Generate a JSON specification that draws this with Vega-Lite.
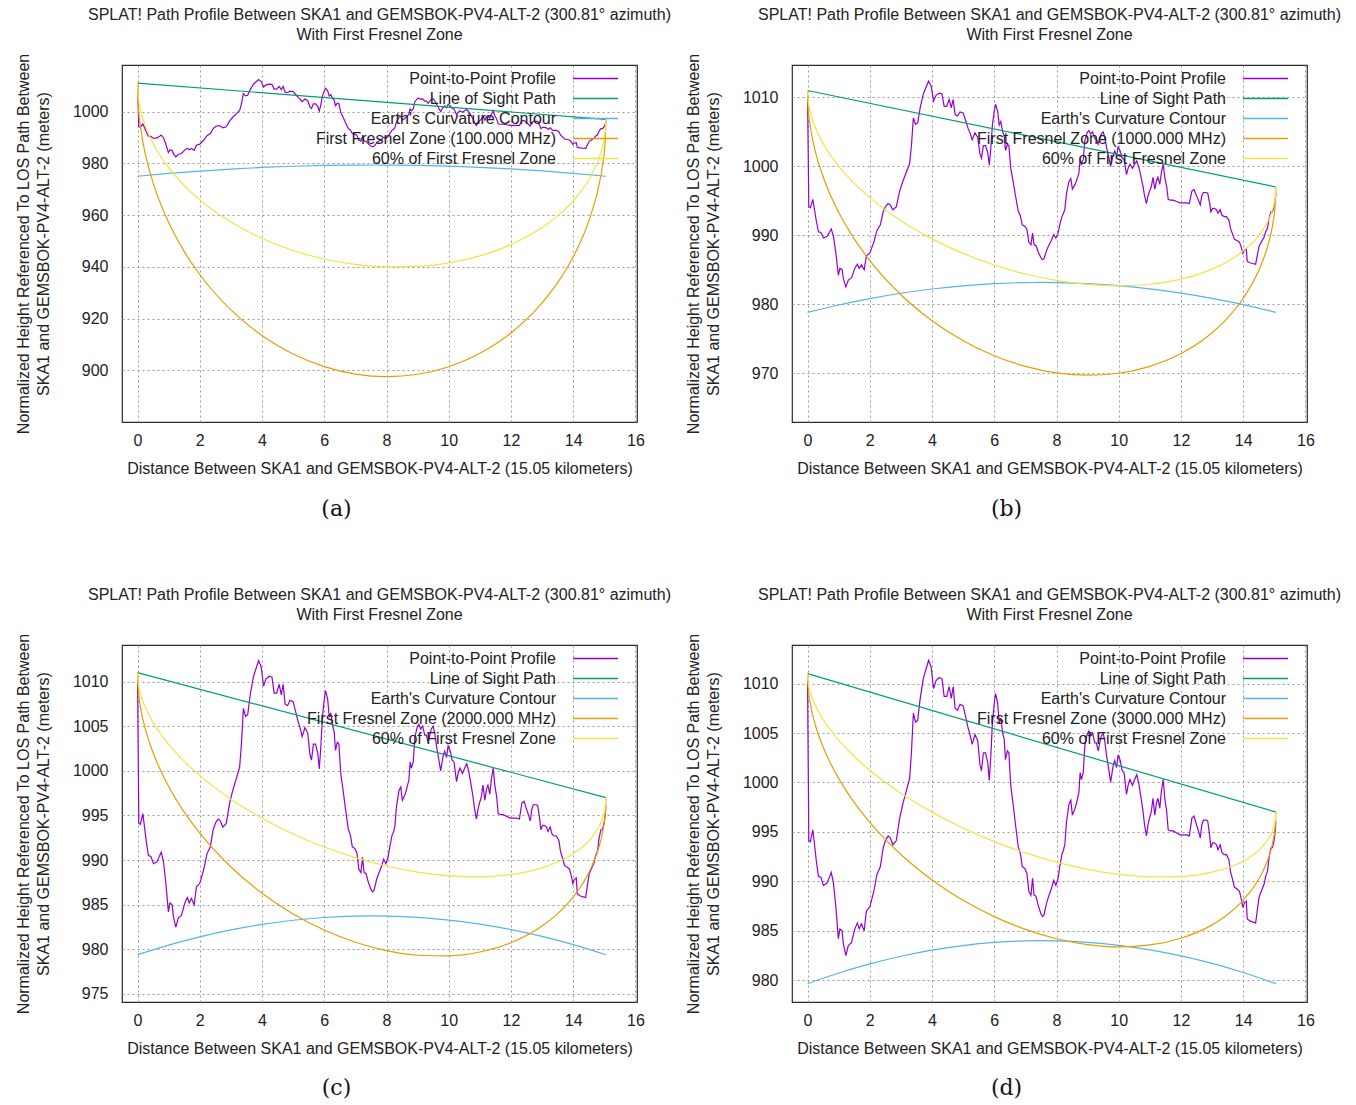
{
"$schema":"https://vega.github.io/schema/vega-lite/v6.json",
"background":"white",
"padding":{"left":14,"top":6,"right":0,"bottom":0},
"datasets":{
"prof":[
{"s":"P","x":0,"h":1010.3},{"s":"P","x":0.04,"h":994.1},{"s":"P","x":0.09,"h":994.0},{"s":"P","x":0.17,"h":995.2},{"s":"P","x":0.21,"h":994.1},{"s":"P","x":0.28,"h":992.1},{"s":"P","x":0.35,"h":990.5},{"s":"P","x":0.43,"h":990.4},{"s":"P","x":0.51,"h":989.6},{"s":"P","x":0.62,"h":989.8},{"s":"P","x":0.70,"h":990.4},{"s":"P","x":0.76,"h":990.9},{"s":"P","x":0.83,"h":989.9},{"s":"P","x":0.91,"h":987.4},{"s":"P","x":0.99,"h":984.2},{"s":"P","x":1.04,"h":985.2},{"s":"P","x":1.11,"h":985.0},{"s":"P","x":1.15,"h":983.7},{"s":"P","x":1.23,"h":982.5},{"s":"P","x":1.31,"h":983.5},{"s":"P","x":1.41,"h":983.8},{"s":"P","x":1.52,"h":985.2},{"s":"P","x":1.60,"h":985.8},{"s":"P","x":1.66,"h":985.2},{"s":"P","x":1.73,"h":985.7},{"s":"P","x":1.82,"h":985.0},{"s":"P","x":1.89,"h":987.0},{"s":"P","x":2.00,"h":987.4},{"s":"P","x":2.13,"h":989.0},{"s":"P","x":2.23,"h":990.7},{"s":"P","x":2.34,"h":991.5},{"s":"P","x":2.43,"h":993.4},{"s":"P","x":2.51,"h":994.2},{"s":"P","x":2.59,"h":994.6},{"s":"P","x":2.66,"h":994.4},{"s":"P","x":2.74,"h":993.7},{"s":"P","x":2.85,"h":994.1},{"s":"P","x":2.96,"h":996.4},{"s":"P","x":3.06,"h":997.8},{"s":"P","x":3.17,"h":999.1},{"s":"P","x":3.28,"h":1000.4},{"s":"P","x":3.34,"h":1003.1},{"s":"P","x":3.40,"h":1007.0},{"s":"P","x":3.47,"h":1006.1},{"s":"P","x":3.54,"h":1006.3},{"s":"P","x":3.62,"h":1008.5},{"s":"P","x":3.72,"h":1010.5},{"s":"P","x":3.81,"h":1011.5},{"s":"P","x":3.89,"h":1012.35},{"s":"P","x":3.97,"h":1011.7},{"s":"P","x":4.05,"h":1009.5},{"s":"P","x":4.13,"h":1010.3},{"s":"P","x":4.23,"h":1010.6},{"s":"P","x":4.32,"h":1010.5},{"s":"P","x":4.39,"h":1008.7},{"s":"P","x":4.47,"h":1008.7},{"s":"P","x":4.55,"h":1009.7},{"s":"P","x":4.62,"h":1008.5},{"s":"P","x":4.68,"h":1009.7},{"s":"P","x":4.74,"h":1007.5},{"s":"P","x":4.82,"h":1007.3},{"s":"P","x":4.90,"h":1007.9},{"s":"P","x":5.00,"h":1007.75},{"s":"P","x":5.09,"h":1006.5},{"s":"P","x":5.16,"h":1005.5},{"s":"P","x":5.22,"h":1004.85},{"s":"P","x":5.29,"h":1003.85},{"s":"P","x":5.38,"h":1004.85},{"s":"P","x":5.47,"h":1004.2},{"s":"P","x":5.54,"h":1001.8},{"s":"P","x":5.59,"h":1001.2},{"s":"P","x":5.65,"h":1003.0},{"s":"P","x":5.72,"h":1003.0},{"s":"P","x":5.79,"h":1002.0},{"s":"P","x":5.84,"h":1000.2},{"s":"P","x":5.89,"h":1002.7},{"s":"P","x":5.94,"h":1006.0},{"s":"P","x":6.00,"h":1008.0},{"s":"P","x":6.04,"h":1009.0},{"s":"P","x":6.11,"h":1008.0},{"s":"P","x":6.16,"h":1006.0},{"s":"P","x":6.21,"h":1006.5},{"s":"P","x":6.27,"h":1005.0},{"s":"P","x":6.32,"h":1004.35},{"s":"P","x":6.36,"h":1002.3},{"s":"P","x":6.42,"h":1003.2},{"s":"P","x":6.47,"h":1003.0},{"s":"P","x":6.53,"h":999.7},{"s":"P","x":6.61,"h":997.7},{"s":"P","x":6.68,"h":995.8},{"s":"P","x":6.77,"h":993.5},{"s":"P","x":6.84,"h":992.8},{"s":"P","x":6.90,"h":991.5},{"s":"P","x":6.98,"h":991.3},{"s":"P","x":7.05,"h":990.8},{"s":"P","x":7.11,"h":989.0},{"s":"P","x":7.18,"h":988.6},{"s":"P","x":7.23,"h":990.3},{"s":"P","x":7.28,"h":988.6},{"s":"P","x":7.34,"h":988.5},{"s":"P","x":7.41,"h":987.6},{"s":"P","x":7.49,"h":986.8},{"s":"P","x":7.55,"h":986.45},{"s":"P","x":7.60,"h":986.6},{"s":"P","x":7.68,"h":987.8},{"s":"P","x":7.75,"h":988.5},{"s":"P","x":7.84,"h":989.3},{"s":"P","x":7.91,"h":990.1},{"s":"P","x":7.98,"h":989.6},{"s":"P","x":8.05,"h":990.3},{"s":"P","x":8.11,"h":991.6},{"s":"P","x":8.18,"h":992.8},{"s":"P","x":8.22,"h":993.1},{"s":"P","x":8.27,"h":993.8},{"s":"P","x":8.32,"h":996.0},{"s":"P","x":8.40,"h":997.8},{"s":"P","x":8.46,"h":998.2},{"s":"P","x":8.51,"h":996.7},{"s":"P","x":8.59,"h":997.3},{"s":"P","x":8.65,"h":998.0},{"s":"P","x":8.72,"h":999.0},{"s":"P","x":8.76,"h":1001.0},{"s":"P","x":8.80,"h":1000.3},{"s":"P","x":8.86,"h":1001.0},{"s":"P","x":8.91,"h":1003.7},{"s":"P","x":8.98,"h":1004.85},{"s":"P","x":9.04,"h":1005.2},{"s":"P","x":9.10,"h":1004.7},{"s":"P","x":9.16,"h":1005.0},{"s":"P","x":9.23,"h":1004.0},{"s":"P","x":9.28,"h":1004.0},{"s":"P","x":9.34,"h":1003.2},{"s":"P","x":9.39,"h":1004.0},{"s":"P","x":9.44,"h":1004.7},{"s":"P","x":9.50,"h":1005.0},{"s":"P","x":9.55,"h":1004.2},{"s":"P","x":9.61,"h":1002.7},{"s":"P","x":9.68,"h":1001.3},{"s":"P","x":9.74,"h":1000.0},{"s":"P","x":9.82,"h":1001.7},{"s":"P","x":9.87,"h":1002.2},{"s":"P","x":9.93,"h":1001.5},{"s":"P","x":9.98,"h":1002.8},{"s":"P","x":10.05,"h":1002.2},{"s":"P","x":10.11,"h":1001.2},{"s":"P","x":10.17,"h":1001.0},{"s":"P","x":10.25,"h":998.8},{"s":"P","x":10.30,"h":999.7},{"s":"P","x":10.36,"h":1000.3},{"s":"P","x":10.44,"h":999.7},{"s":"P","x":10.51,"h":1000.3},{"s":"P","x":10.58,"h":1000.8},{"s":"P","x":10.65,"h":999.8},{"s":"P","x":10.72,"h":998.4},{"s":"P","x":10.78,"h":997.1},{"s":"P","x":10.83,"h":995.7},{"s":"P","x":10.89,"h":994.6},{"s":"P","x":10.94,"h":995.7},{"s":"P","x":10.99,"h":996.4},{"s":"P","x":11.05,"h":997.1},{"s":"P","x":11.10,"h":998.4},{"s":"P","x":11.16,"h":996.7},{"s":"P","x":11.21,"h":997.9},{"s":"P","x":11.26,"h":998.4},{"s":"P","x":11.32,"h":997.4},{"s":"P","x":11.37,"h":999.1},{"s":"P","x":11.43,"h":1000.3},{"s":"P","x":11.48,"h":998.4},{"s":"P","x":11.54,"h":997.1},{"s":"P","x":11.59,"h":995.2},{"s":"P","x":11.66,"h":995.1},{"s":"P","x":11.75,"h":995.1},{"s":"P","x":11.86,"h":994.9},{"s":"P","x":11.97,"h":994.7},{"s":"P","x":12.08,"h":994.7},{"s":"P","x":12.18,"h":994.7},{"s":"P","x":12.27,"h":994.6},{"s":"P","x":12.35,"h":996.4},{"s":"P","x":12.42,"h":996.6},{"s":"P","x":12.51,"h":995.6},{"s":"P","x":12.56,"h":995.1},{"s":"P","x":12.62,"h":994.4},{"s":"P","x":12.67,"h":995.7},{"s":"P","x":12.72,"h":996.2},{"s":"P","x":12.81,"h":996.2},{"s":"P","x":12.86,"h":996.1},{"s":"P","x":12.92,"h":994.7},{"s":"P","x":12.96,"h":993.4},{"s":"P","x":13.02,"h":993.9},{"s":"P","x":13.07,"h":993.9},{"s":"P","x":13.14,"h":993.7},{"s":"P","x":13.19,"h":993.2},{"s":"P","x":13.26,"h":993.7},{"s":"P","x":13.32,"h":992.9},{"s":"P","x":13.39,"h":992.7},{"s":"P","x":13.46,"h":992.7},{"s":"P","x":13.54,"h":992.2},{"s":"P","x":13.59,"h":991.0},{"s":"P","x":13.64,"h":990.4},{"s":"P","x":13.72,"h":989.4},{"s":"P","x":13.81,"h":989.2},{"s":"P","x":13.88,"h":989.0},{"s":"P","x":13.94,"h":988.2},{"s":"P","x":13.99,"h":987.35},{"s":"P","x":14.04,"h":987.85},{"s":"P","x":14.10,"h":988.0},{"s":"P","x":14.13,"h":986.2},{"s":"P","x":14.22,"h":986.0},{"s":"P","x":14.29,"h":985.9},{"s":"P","x":14.40,"h":985.8},{"s":"P","x":14.45,"h":987.0},{"s":"P","x":14.51,"h":988.4},{"s":"P","x":14.58,"h":989.0},{"s":"P","x":14.67,"h":989.7},{"s":"P","x":14.72,"h":990.5},{"s":"P","x":14.78,"h":991.0},{"s":"P","x":14.83,"h":992.4},{"s":"P","x":14.89,"h":993.4},{"s":"P","x":14.94,"h":993.4},{"s":"P","x":14.99,"h":994.1},{"s":"P","x":15.03,"h":995.1},{"s":"P","x":15.05,"h":996.1}
],
"pa":[
{"s":"L","x":0,"h":1011},{"s":"L","x":15.05,"h":997},
{"s":"E","x":0,"h":975.0},{"s":"E","x":1,"h":976.08},{"s":"E","x":2,"h":977.0},{"s":"E","x":3,"h":977.78},{"s":"E","x":4,"h":978.4},{"s":"E","x":5,"h":978.86},{"s":"E","x":6,"h":979.17},{"s":"E","x":7,"h":979.33},{"s":"E","x":7.5,"h":979.35},{"s":"E","x":8,"h":979.33},{"s":"E","x":9,"h":979.18},{"s":"E","x":10,"h":978.88},{"s":"E","x":11,"h":978.42},{"s":"E","x":12,"h":977.81},{"s":"E","x":13,"h":977.05},{"s":"E","x":14,"h":976.13},{"s":"E","x":15.05,"h":975.0},
{"s":"F","x":0,"h":1011.0},{"s":"F","x":0.02,"h":1003.24},{"s":"F","x":0.1,"h":993.65},{"s":"F","x":0.25,"h":983.61},{"s":"F","x":0.5,"h":972.45},{"s":"F","x":1,"h":957.15},{"s":"F","x":1.5,"h":945.95},{"s":"F","x":2,"h":937.01},{"s":"F","x":3,"h":923.33},{"s":"F","x":4,"h":913.42},{"s":"F","x":5,"h":906.27},{"s":"F","x":6,"h":901.38},{"s":"F","x":7,"h":898.51},{"s":"F","x":8,"h":897.53},{"s":"F","x":9,"h":898.45},{"s":"F","x":10,"h":901.37},{"s":"F","x":11,"h":906.54},{"s":"F","x":12,"h":914.43},{"s":"F","x":13,"h":926.03},{"s":"F","x":13.5,"h":933.86},{"s":"F","x":14,"h":943.85},{"s":"F","x":14.55,"h":959.38},{"s":"F","x":14.8,"h":970.07},{"s":"F","x":14.95,"h":979.83},{"s":"F","x":15.03,"h":989.28},{"s":"F","x":15.05,"h":997.0},
{"s":"S","x":0,"h":1011.0},{"s":"S","x":0.02,"h":1006.34},{"s":"S","x":0.1,"h":1000.55},{"s":"S","x":0.25,"h":994.47},{"s":"S","x":0.5,"h":987.68},{"s":"S","x":1,"h":978.32},{"s":"S","x":1.5,"h":971.41},{"s":"S","x":2,"h":965.86},{"s":"S","x":3,"h":957.28},{"s":"S","x":4,"h":950.96},{"s":"S","x":5,"h":946.3},{"s":"S","x":6,"h":943.0},{"s":"S","x":7,"h":940.9},{"s":"S","x":8,"h":939.94},{"s":"S","x":9,"h":940.12},{"s":"S","x":10,"h":941.5},{"s":"S","x":11,"h":944.23},{"s":"S","x":12,"h":948.59},{"s":"S","x":13,"h":955.18},{"s":"S","x":13.5,"h":959.69},{"s":"S","x":14,"h":965.5},{"s":"S","x":14.55,"h":974.61},{"s":"S","x":14.8,"h":980.93},{"s":"S","x":14.95,"h":986.73},{"s":"S","x":15.03,"h":992.38},{"s":"S","x":15.05,"h":997.0}
],
"pb":[
{"s":"L","x":0,"h":1011},{"s":"L","x":15.05,"h":997},
{"s":"E","x":0,"h":978.8},{"s":"E","x":1,"h":979.88},{"s":"E","x":2,"h":980.8},{"s":"E","x":3,"h":981.58},{"s":"E","x":4,"h":982.2},{"s":"E","x":5,"h":982.66},{"s":"E","x":6,"h":982.97},{"s":"E","x":7,"h":983.13},{"s":"E","x":7.5,"h":983.15},{"s":"E","x":8,"h":983.13},{"s":"E","x":9,"h":982.98},{"s":"E","x":10,"h":982.68},{"s":"E","x":11,"h":982.22},{"s":"E","x":12,"h":981.61},{"s":"E","x":13,"h":980.85},{"s":"E","x":14,"h":979.93},{"s":"E","x":15.05,"h":978.8},
{"s":"F","x":0,"h":1011.0},{"s":"F","x":0.02,"h":1008.53},{"s":"F","x":0.1,"h":1005.45},{"s":"F","x":0.25,"h":1002.18},{"s":"F","x":0.5,"h":998.49},{"s":"F","x":1,"h":993.34},{"s":"F","x":1.5,"h":989.47},{"s":"F","x":2,"h":986.33},{"s":"F","x":3,"h":981.37},{"s":"F","x":4,"h":977.6},{"s":"F","x":5,"h":974.7},{"s":"F","x":6,"h":972.52},{"s":"F","x":7,"h":970.98},{"s":"F","x":8,"h":970.03},{"s":"F","x":9,"h":969.69},{"s":"F","x":10,"h":969.97},{"s":"F","x":11,"h":970.97},{"s":"F","x":12,"h":972.83},{"s":"F","x":13,"h":975.86},{"s":"F","x":13.5,"h":978.02},{"s":"F","x":14,"h":980.86},{"s":"F","x":14.55,"h":985.42},{"s":"F","x":14.8,"h":988.64},{"s":"F","x":14.95,"h":991.63},{"s":"F","x":15.03,"h":994.57},{"s":"F","x":15.05,"h":997.0},
{"s":"S","x":0,"h":1011.0},{"s":"S","x":0.02,"h":1009.51},{"s":"S","x":0.1,"h":1007.64},{"s":"S","x":0.25,"h":1005.62},{"s":"S","x":0.5,"h":1003.3},{"s":"S","x":1,"h":1000.03},{"s":"S","x":1.5,"h":997.52},{"s":"S","x":2,"h":995.46},{"s":"S","x":3,"h":992.1},{"s":"S","x":4,"h":989.47},{"s":"S","x":5,"h":987.36},{"s":"S","x":6,"h":985.68},{"s":"S","x":7,"h":984.38},{"s":"S","x":8,"h":983.44},{"s":"S","x":9,"h":982.86},{"s":"S","x":10,"h":982.66},{"s":"S","x":11,"h":982.89},{"s":"S","x":12,"h":983.63},{"s":"S","x":13,"h":985.08},{"s":"S","x":13.5,"h":986.19},{"s":"S","x":14,"h":987.71},{"s":"S","x":14.55,"h":990.23},{"s":"S","x":14.8,"h":992.08},{"s":"S","x":14.95,"h":993.82},{"s":"S","x":15.03,"h":995.55},{"s":"S","x":15.05,"h":997.0}
],
"pc":[
{"s":"L","x":0,"h":1011},{"s":"L","x":15.05,"h":997},
{"s":"E","x":0,"h":979.4},{"s":"E","x":1,"h":980.48},{"s":"E","x":2,"h":981.4},{"s":"E","x":3,"h":982.18},{"s":"E","x":4,"h":982.8},{"s":"E","x":5,"h":983.26},{"s":"E","x":6,"h":983.57},{"s":"E","x":7,"h":983.73},{"s":"E","x":7.5,"h":983.75},{"s":"E","x":8,"h":983.73},{"s":"E","x":9,"h":983.58},{"s":"E","x":10,"h":983.28},{"s":"E","x":11,"h":982.82},{"s":"E","x":12,"h":982.21},{"s":"E","x":13,"h":981.45},{"s":"E","x":14,"h":980.53},{"s":"E","x":15.05,"h":979.4},
{"s":"F","x":0,"h":1011.0},{"s":"F","x":0.02,"h":1009.25},{"s":"F","x":0.1,"h":1007.05},{"s":"F","x":0.25,"h":1004.7},{"s":"F","x":0.5,"h":1002.02},{"s":"F","x":1,"h":998.24},{"s":"F","x":1.5,"h":995.37},{"s":"F","x":2,"h":993.01},{"s":"F","x":3,"h":989.23},{"s":"F","x":4,"h":986.29},{"s":"F","x":5,"h":983.97},{"s":"F","x":6,"h":982.16},{"s":"F","x":7,"h":980.79},{"s":"F","x":8,"h":979.85},{"s":"F","x":9,"h":979.34},{"s":"F","x":10,"h":979.27},{"s":"F","x":11,"h":979.7},{"s":"F","x":12,"h":980.74},{"s":"F","x":13,"h":982.61},{"s":"F","x":13.5,"h":984.0},{"s":"F","x":14,"h":985.88},{"s":"F","x":14.55,"h":988.95},{"s":"F","x":14.8,"h":991.16},{"s":"F","x":14.95,"h":993.23},{"s":"F","x":15.03,"h":995.29},{"s":"F","x":15.05,"h":997.0},
{"s":"S","x":0,"h":1011.0},{"s":"S","x":0.02,"h":1009.94},{"s":"S","x":0.1,"h":1008.59},{"s":"S","x":0.25,"h":1007.13},{"s":"S","x":0.5,"h":1005.42},{"s":"S","x":1,"h":1002.97},{"s":"S","x":1.5,"h":1001.06},{"s":"S","x":2,"h":999.46},{"s":"S","x":3,"h":996.82},{"s":"S","x":4,"h":994.69},{"s":"S","x":5,"h":992.92},{"s":"S","x":6,"h":991.46},{"s":"S","x":7,"h":990.27},{"s":"S","x":8,"h":989.34},{"s":"S","x":9,"h":988.65},{"s":"S","x":10,"h":988.24},{"s":"S","x":11,"h":988.13},{"s":"S","x":12,"h":988.38},{"s":"S","x":13,"h":989.13},{"s":"S","x":13.5,"h":989.78},{"s":"S","x":14,"h":990.72},{"s":"S","x":14.55,"h":992.35},{"s":"S","x":14.8,"h":993.59},{"s":"S","x":14.95,"h":994.77},{"s":"S","x":15.03,"h":995.98},{"s":"S","x":15.05,"h":997.0}
],
"pd":[
{"s":"L","x":0,"h":1011},{"s":"L","x":15.05,"h":997},
{"s":"E","x":0,"h":979.65},{"s":"E","x":1,"h":980.73},{"s":"E","x":2,"h":981.65},{"s":"E","x":3,"h":982.43},{"s":"E","x":4,"h":983.05},{"s":"E","x":5,"h":983.51},{"s":"E","x":6,"h":983.82},{"s":"E","x":7,"h":983.98},{"s":"E","x":7.5,"h":984.0},{"s":"E","x":8,"h":983.98},{"s":"E","x":9,"h":983.83},{"s":"E","x":10,"h":983.53},{"s":"E","x":11,"h":983.07},{"s":"E","x":12,"h":982.46},{"s":"E","x":13,"h":981.7},{"s":"E","x":14,"h":980.78},{"s":"E","x":15.05,"h":979.65},
{"s":"F","x":0,"h":1011.0},{"s":"F","x":0.02,"h":1009.57},{"s":"F","x":0.1,"h":1007.76},{"s":"F","x":0.25,"h":1005.81},{"s":"F","x":0.5,"h":1003.58},{"s":"F","x":1,"h":1000.41},{"s":"F","x":1.5,"h":997.98},{"s":"F","x":2,"h":995.97},{"s":"F","x":3,"h":992.71},{"s":"F","x":4,"h":990.14},{"s":"F","x":5,"h":988.08},{"s":"F","x":6,"h":986.43},{"s":"F","x":7,"h":985.14},{"s":"F","x":8,"h":984.2},{"s":"F","x":9,"h":983.61},{"s":"F","x":10,"h":983.38},{"s":"F","x":11,"h":983.57},{"s":"F","x":12,"h":984.25},{"s":"F","x":13,"h":985.6},{"s":"F","x":13.5,"h":986.65},{"s":"F","x":14,"h":988.1},{"s":"F","x":14.55,"h":990.51},{"s":"F","x":14.8,"h":992.27},{"s":"F","x":14.95,"h":993.94},{"s":"F","x":15.03,"h":995.61},{"s":"F","x":15.05,"h":997.0},
{"s":"S","x":0,"h":1011.0},{"s":"S","x":0.02,"h":1010.13},{"s":"S","x":0.1,"h":1009.02},{"s":"S","x":0.25,"h":1007.8},{"s":"S","x":0.5,"h":1006.36},{"s":"S","x":1,"h":1004.27},{"s":"S","x":1.5,"h":1002.63},{"s":"S","x":2,"h":1001.24},{"s":"S","x":3,"h":998.91},{"s":"S","x":4,"h":997.0},{"s":"S","x":5,"h":995.39},{"s":"S","x":6,"h":994.02},{"s":"S","x":7,"h":992.88},{"s":"S","x":8,"h":991.95},{"s":"S","x":9,"h":991.22},{"s":"S","x":10,"h":990.71},{"s":"S","x":11,"h":990.45},{"s":"S","x":12,"h":990.48},{"s":"S","x":13,"h":990.93},{"s":"S","x":13.5,"h":991.37},{"s":"S","x":14,"h":992.05},{"s":"S","x":14.55,"h":993.29},{"s":"S","x":14.8,"h":994.26},{"s":"S","x":14.95,"h":995.2},{"s":"S","x":15.03,"h":996.17},{"s":"S","x":15.05,"h":997.0}
]
},
"config":{
"font":"Liberation Sans",
"view":{"stroke":"#2b2b2b","strokeWidth":1.2},
"axis":{"grid":true,"gridColor":"#9a9a9a","gridDash":[2,3],"gridWidth":1,"domain":false,"ticks":false,"format":"d","labelFontSize":16,"labelFont":"Liberation Sans","labelColor":"#222222","titleFontSize":16,"titleFont":"Liberation Sans","titleFontWeight":"normal","titleColor":"#222222","titleLineHeight":20},
"axisX":{"labelPadding":10,"titlePadding":12},
"axisY":{"labelPadding":14,"titlePadding":21},
"title":{"font":"Liberation Sans","fontSize":16,"fontWeight":"normal","color":"#222222","lineHeight":20,"offset":10},
"legend":{"symbolType":"M-3,0H3","symbolSize":225,"symbolStrokeWidth":1.5,"labelAlign":"right","labelOffset":-48,"symbolOffset":30,"labelFontSize":16,"labelFont":"Liberation Sans","labelColor":"#222222","labelLimit":500,"rowPadding":3,"padding":0}
},
"columns":2,
"spacing":{"row":40,"column":155},
"bounds":"flush",
"resolve":{"scale":{"color":"independent"}},
"concat":[
{
  "width":515,"height":357,
  "title":{"text":["SPLAT! Path Profile Between SKA1 and GEMSBOK-PV4-ALT-2 (300.81° azimuth)","With First Fresnel Zone"],"anchor":"middle","frame":"group"},
  "encoding":{
   "x":{"field":"x","type":"quantitative","scale":{"domain":[-0.5,16.05],"nice":false,"zero":false},"axis":{"values":[0,2,4,6,8,10,12,14,16],"title":"Distance Between SKA1 and GEMSBOK-PV4-ALT-2 (15.05 kilometers)"}},
   "y":{"field":"h","type":"quantitative","scale":{"domain":[880,1018],"nice":false,"zero":false},"axis":{"values":[900,920,940,960,980,1000],"title":["Normalized Height Referenced To LOS Path Between","SKA1 and GEMSBOK-PV4-ALT-2 (meters)"]}},
   "color":{"field":"s","type":"nominal","scale":{"domain":["P","L","E","F","S"],"range":["#9400d3","#009e73","#56b4e9","#e69f00","#f0e442"]},
    "legend":{"title":null,"orient":"none","legendX":435,"legendY":5,"labelExpr":"datum.value == 'P' ? 'Point-to-Point Profile' : datum.value == 'L' ? 'Line of Sight Path' : datum.value == 'E' ? \"Earth's Curvature Contour\" : datum.value == 'F' ? 'First Fresnel Zone (100.000 MHz)' : '60% of First Fresnel Zone'"}}
  },
  "layer":[
   {"data":{"name":"prof"},"mark":{"type":"line","strokeWidth":1.2,"clip":true}},
   {"data":{"name":"pa"},"mark":{"type":"line","strokeWidth":1.2,"interpolate":"monotone","clip":true}}
  ]
},
{
  "width":515,"height":357,
  "title":{"text":["SPLAT! Path Profile Between SKA1 and GEMSBOK-PV4-ALT-2 (300.81° azimuth)","With First Fresnel Zone"],"anchor":"middle","frame":"group"},
  "encoding":{
   "x":{"field":"x","type":"quantitative","scale":{"domain":[-0.5,16.05],"nice":false,"zero":false},"axis":{"values":[0,2,4,6,8,10,12,14,16],"title":"Distance Between SKA1 and GEMSBOK-PV4-ALT-2 (15.05 kilometers)"}},
   "y":{"field":"h","type":"quantitative","scale":{"domain":[962.9,1014.7],"nice":false,"zero":false},"axis":{"values":[970,980,990,1000,1010],"title":["Normalized Height Referenced To LOS Path Between","SKA1 and GEMSBOK-PV4-ALT-2 (meters)"]}},
   "color":{"field":"s","type":"nominal","scale":{"domain":["P","L","E","F","S"],"range":["#9400d3","#009e73","#56b4e9","#e69f00","#f0e442"]},
    "legend":{"title":null,"orient":"none","legendX":435,"legendY":5,"labelExpr":"datum.value == 'P' ? 'Point-to-Point Profile' : datum.value == 'L' ? 'Line of Sight Path' : datum.value == 'E' ? \"Earth's Curvature Contour\" : datum.value == 'F' ? 'First Fresnel Zone (1000.000 MHz)' : '60% of First Fresnel Zone'"}}
  },
  "layer":[
   {"data":{"name":"prof"},"mark":{"type":"line","strokeWidth":1.2,"clip":true}},
   {"data":{"name":"pb"},"mark":{"type":"line","strokeWidth":1.2,"interpolate":"monotone","clip":true}}
  ]
},
{"width":515,"height":143,"view":{"stroke":null},"data":{"values":[{"c":"(a)"}]},"mark":{"type":"text","font":"DejaVu Serif","fontSize":22,"color":"#111111","dx":-43,"dy":-25},"encoding":{"text":{"field":"c"}}},
{"width":515,"height":143,"view":{"stroke":null},"data":{"values":[{"c":"(b)"}]},"mark":{"type":"text","font":"DejaVu Serif","fontSize":22,"color":"#111111","dx":-43,"dy":-25},"encoding":{"text":{"field":"c"}}},
{
  "width":515,"height":357,
  "title":{"text":["SPLAT! Path Profile Between SKA1 and GEMSBOK-PV4-ALT-2 (300.81° azimuth)","With First Fresnel Zone"],"anchor":"middle","frame":"group"},
  "encoding":{
   "x":{"field":"x","type":"quantitative","scale":{"domain":[-0.5,16.05],"nice":false,"zero":false},"axis":{"values":[0,2,4,6,8,10,12,14,16],"title":"Distance Between SKA1 and GEMSBOK-PV4-ALT-2 (15.05 kilometers)"}},
   "y":{"field":"h","type":"quantitative","scale":{"domain":[974.1,1014.1],"nice":false,"zero":false},"axis":{"values":[975,980,985,990,995,1000,1005,1010],"title":["Normalized Height Referenced To LOS Path Between","SKA1 and GEMSBOK-PV4-ALT-2 (meters)"]}},
   "color":{"field":"s","type":"nominal","scale":{"domain":["P","L","E","F","S"],"range":["#9400d3","#009e73","#56b4e9","#e69f00","#f0e442"]},
    "legend":{"title":null,"orient":"none","legendX":435,"legendY":5,"labelExpr":"datum.value == 'P' ? 'Point-to-Point Profile' : datum.value == 'L' ? 'Line of Sight Path' : datum.value == 'E' ? \"Earth's Curvature Contour\" : datum.value == 'F' ? 'First Fresnel Zone (2000.000 MHz)' : '60% of First Fresnel Zone'"}}
  },
  "layer":[
   {"data":{"name":"prof"},"mark":{"type":"line","strokeWidth":1.2,"clip":true}},
   {"data":{"name":"pc"},"mark":{"type":"line","strokeWidth":1.2,"interpolate":"monotone","clip":true}}
  ]
},
{
  "width":515,"height":357,
  "title":{"text":["SPLAT! Path Profile Between SKA1 and GEMSBOK-PV4-ALT-2 (300.81° azimuth)","With First Fresnel Zone"],"anchor":"middle","frame":"group"},
  "encoding":{
   "x":{"field":"x","type":"quantitative","scale":{"domain":[-0.5,16.05],"nice":false,"zero":false},"axis":{"values":[0,2,4,6,8,10,12,14,16],"title":"Distance Between SKA1 and GEMSBOK-PV4-ALT-2 (15.05 kilometers)"}},
   "y":{"field":"h","type":"quantitative","scale":{"domain":[977.8,1013.9],"nice":false,"zero":false},"axis":{"values":[980,985,990,995,1000,1005,1010],"title":["Normalized Height Referenced To LOS Path Between","SKA1 and GEMSBOK-PV4-ALT-2 (meters)"]}},
   "color":{"field":"s","type":"nominal","scale":{"domain":["P","L","E","F","S"],"range":["#9400d3","#009e73","#56b4e9","#e69f00","#f0e442"]},
    "legend":{"title":null,"orient":"none","legendX":435,"legendY":5,"labelExpr":"datum.value == 'P' ? 'Point-to-Point Profile' : datum.value == 'L' ? 'Line of Sight Path' : datum.value == 'E' ? \"Earth's Curvature Contour\" : datum.value == 'F' ? 'First Fresnel Zone (3000.000 MHz)' : '60% of First Fresnel Zone'"}}
  },
  "layer":[
   {"data":{"name":"prof"},"mark":{"type":"line","strokeWidth":1.2,"clip":true}},
   {"data":{"name":"pd"},"mark":{"type":"line","strokeWidth":1.2,"interpolate":"monotone","clip":true}}
  ]
},
{"width":515,"height":40,"view":{"stroke":null},"data":{"values":[{"c":"(c)"}]},"mark":{"type":"text","font":"DejaVu Serif","fontSize":22,"color":"#111111","dx":-43,"dy":26},"encoding":{"text":{"field":"c"}}},
{"width":515,"height":40,"view":{"stroke":null},"data":{"values":[{"c":"(d)"}]},"mark":{"type":"text","font":"DejaVu Serif","fontSize":22,"color":"#111111","dx":-43,"dy":26},"encoding":{"text":{"field":"c"}}}
]
}
